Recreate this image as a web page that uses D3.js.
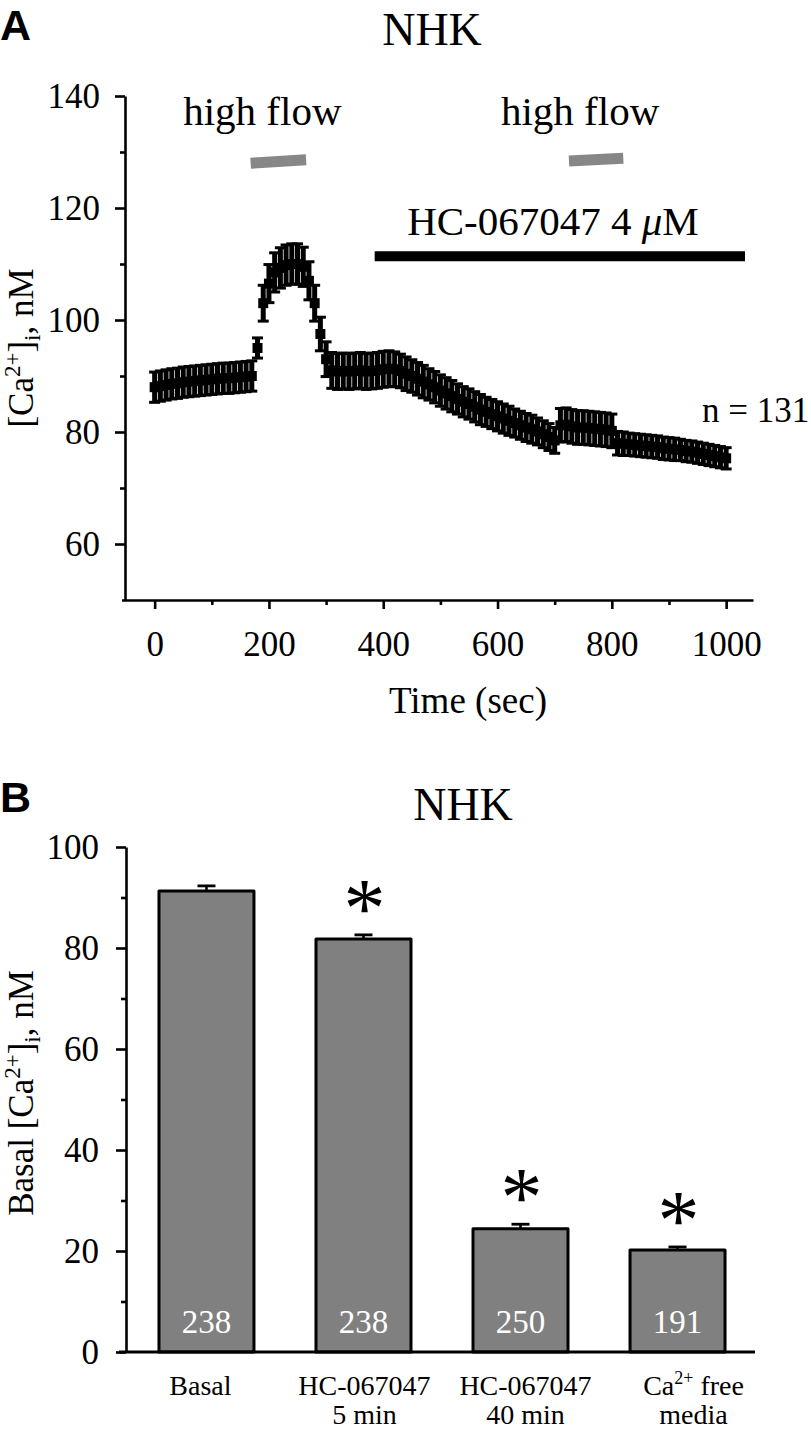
<!DOCTYPE html>
<html><head><meta charset="utf-8">
<script src="https://cdn.jsdelivr.net/npm/d3@7"></script>
<style>
body{margin:0;background:#fff}
svg text{font-family:"Liberation Serif","Times New Roman",serif;fill:#000}
</style>
</head><body>
<svg id="c" width="811" height="1430"></svg>
<script>
// ---------- Panel A data ----------
const timeSec = [
  0,10,20,30,40,50,60,70,80,90,
  100,110,120,130,140,150,160,170,180,190,
  200,210,220,230,240,250,260,270,280,290,
  300,310,320,330,340,350,360,370,380,390,
  400,410,420,430,440,450,460,470,480,490,
  500,510,520,530,540,550,560,570,580,590,
  600,610,620,630,640,650,660,670,680,690,
  700,710,720,730,740,750,760,770,780,790,
  800,810,820,830,840,850,860,870,880,890,
  900,910,920,930,940,950,960,970,980,990,
  1000];
const caMean = [
  88.0,88.2,88.4,88.6,88.7,88.9,89.0,89.1,89.2,89.3,
  89.4,89.5,89.6,89.6,89.7,89.8,89.9,90.0,95.0,103.0,
  106.5,108.5,109.3,109.8,110.0,110.0,109.5,107.0,103.0,97.5,
  93.0,91.0,90.8,90.9,90.8,90.9,91.0,90.8,90.9,91.0,
  91.2,91.3,91.2,90.9,90.4,90.0,89.5,89.0,88.5,88.0,
  87.4,86.9,86.4,85.9,85.4,85.0,84.5,84.0,83.6,83.2,
  82.8,82.4,82.0,81.6,81.2,80.8,80.5,80.1,79.6,79.1,
  78.5,81.2,81.3,81.0,80.8,80.8,80.7,80.6,80.5,80.4,
  80.2,78.0,77.9,77.8,77.7,77.6,77.5,77.4,77.3,77.1,
  77.0,76.9,76.8,76.6,76.5,76.3,76.1,75.9,75.7,75.5,
  75.3];
const caSem = [
  2.7,2.7,2.7,2.7,2.7,2.7,2.7,2.7,2.7,2.7,
  2.7,2.7,2.7,2.7,2.7,2.7,2.7,2.7,1.8,3.2,
  3.4,3.5,3.6,3.6,3.6,3.6,3.5,3.4,3.2,3.0,
  3.1,3.2,3.2,3.2,3.2,3.2,3.2,3.2,3.2,3.2,
  3.2,3.2,3.1,3.0,3.0,2.9,2.9,2.9,2.8,2.8,
  2.8,2.8,2.8,2.7,2.7,2.7,2.7,2.7,2.6,2.6,
  2.6,2.6,2.6,2.5,2.5,2.5,2.5,2.4,2.4,2.4,
  2.3,3.0,3.0,3.0,3.0,3.0,3.0,3.0,3.0,3.0,
  3.0,2.1,2.1,2.0,2.0,2.0,2.0,2.0,2.0,2.0,
  2.0,2.0,1.9,1.9,1.9,1.9,1.9,1.9,1.9,1.9,
  1.9];
const xTicksA = [0,200,400,600,800,1000];
const xMinorA = [100,300,500,700,900];
const yTicksA = [60,80,100,120,140];
const yMinorA = [70,90,110,130];
const highFlowStart = [168,725];
const highFlowEnd = [265,820];
const highFlowLevelStart = [128.0,128.4];
const highFlowLevelEnd = [128.6,128.9];
const drugStart = 385, drugEnd = 1033, drugLevel = 111.4;

// ---------- Panel B data ----------
const categories = ["Basal","HC-067047 5 min","HC-067047 40 min","Ca free media"];
const barMeans = [91.3,81.8,24.4,20.2];
const barSems = [1.0,0.8,0.9,0.6];
const cellCounts = [238,238,250,191];
const significant = [false,true,true,true];
const yTicksB = [0,20,40,60,80,100];
const yMinorB = [10,30,50,70,90];

const svg = d3.select("#c");

// ================= PANEL A =================
const xA = d3.scaleLinear().domain([-58,1047]).range([121.5,753]);
const yA = d3.scaleLinear().domain([50,140]).range([600,96]);

svg.append("text").attr("x",0).attr("y",40)
  .style("font-family","'Liberation Sans',Arial,sans-serif").style("font-weight","bold")
  .attr("font-size",43).text("A");
svg.append("text").attr("x",432).attr("y",45).attr("text-anchor","middle")
  .attr("font-size",46).text("NHK");

function styleAxis(g, w){
  g.selectAll("path.domain").attr("stroke","#000").attr("stroke-width",w);
  g.selectAll(".tick line").attr("stroke","#000").attr("stroke-width",w);
}

// y axis A
const gyA = svg.append("g").attr("transform","translate(125,0)")
  .call(d3.axisLeft(yA).tickValues(yTicksA).tickSize(10).tickSizeOuter(0).tickPadding(15));
styleAxis(gyA,2.6);
gyA.selectAll(".tick text").attr("font-size",35).style("font-family","'Liberation Serif',serif");
const gyAm = svg.append("g").attr("transform","translate(125,0)")
  .call(d3.axisLeft(yA).tickValues(yMinorA).tickSize(5).tickFormat(""));
gyAm.select("path.domain").remove();
styleAxis(gyAm,2.6);

// x axis A
const gxA = svg.append("g").attr("transform","translate(0,600)")
  .call(d3.axisBottom(xA).tickValues(xTicksA).tickFormat(d3.format("d")).tickSize(9).tickSizeOuter(0).tickPadding(22));
styleAxis(gxA,2.6);
gxA.selectAll(".tick text").attr("font-size",35).style("font-family","'Liberation Serif',serif");
const gxAm = svg.append("g").attr("transform","translate(0,600)")
  .call(d3.axisBottom(xA).tickValues(xMinorA).tickSize(5).tickFormat(""));
gxAm.select("path.domain").remove();
styleAxis(gxAm,2.6);

svg.append("text").attr("x",468).attr("y",713).attr("text-anchor","middle")
  .attr("font-size",37).text("Time (sec)");

// y label A
const ylA = svg.append("text").attr("transform","translate(33,348) rotate(-90)")
  .attr("text-anchor","middle").attr("font-size",35);
ylA.append("tspan").text("[Ca");
ylA.append("tspan").attr("dy",-13).attr("font-size",23).text("2+");
ylA.append("tspan").attr("dy",13).text("]");
ylA.append("tspan").attr("dy",7).attr("font-size",23).text("i");
ylA.append("tspan").attr("dy",-7).text(", nM");

// trace with error bars
const pts = timeSec.map((t,i)=>({t, m:caMean[i], e:caSem[i]}));
const gT = svg.append("g");
gT.selectAll("line.eb").data(pts).join("line").attr("class","eb")
  .attr("x1",d=>xA(d.t)).attr("x2",d=>xA(d.t))
  .attr("y1",d=>yA(d.m-d.e)).attr("y2",d=>yA(d.m+d.e))
  .attr("stroke","#000").attr("stroke-width",5);
gT.selectAll("line.capT").data(pts).join("line").attr("class","capT")
  .attr("x1",d=>xA(d.t)-5.5).attr("x2",d=>xA(d.t)+5.5)
  .attr("y1",d=>yA(d.m+d.e)).attr("y2",d=>yA(d.m+d.e))
  .attr("stroke","#000").attr("stroke-width",3);
gT.selectAll("line.capB").data(pts).join("line").attr("class","capB")
  .attr("x1",d=>xA(d.t)-5.5).attr("x2",d=>xA(d.t)+5.5)
  .attr("y1",d=>yA(d.m-d.e)).attr("y2",d=>yA(d.m-d.e))
  .attr("stroke","#000").attr("stroke-width",3);
gT.selectAll("rect.mk").data(pts).join("rect").attr("class","mk")
  .attr("x",d=>xA(d.t)-5).attr("y",d=>yA(d.m)-5)
  .attr("width",10).attr("height",10).attr("fill","#000");

// high flow bars + labels
highFlowStart.forEach((s,i)=>{
  svg.append("line")
    .attr("x1",xA(s)).attr("x2",xA(highFlowEnd[i]))
    .attr("y1",yA(highFlowLevelStart[i])).attr("y2",yA(highFlowLevelEnd[i]))
    .attr("stroke","#878787").attr("stroke-width",11);
  svg.append("text").attr("x",(xA(s)+xA(highFlowEnd[i]))/2-16).attr("y",125)
    .attr("text-anchor","middle").attr("font-size",41).text("high flow");
});

// drug bar + label
svg.append("line").attr("x1",xA(drugStart)).attr("x2",xA(drugEnd))
  .attr("y1",yA(drugLevel)).attr("y2",yA(drugLevel))
  .attr("stroke","#000").attr("stroke-width",10);
const hc = svg.append("text").attr("x",553).attr("y",235).attr("text-anchor","middle").attr("font-size",41);
hc.append("tspan").text("HC-067047 4 ");
hc.append("tspan").attr("font-style","italic").text("\u03bc");
hc.append("tspan").text("M");

svg.append("text").attr("x",702).attr("y",422).attr("font-size",35).text("n = 131");

// ================= PANEL B =================
const xB = d3.scaleBand().domain(categories).range([126,758]).paddingInner(0.395).paddingOuter(0.21);
const yB = d3.scaleLinear().domain([0,100]).range([1352,847]);

svg.append("text").attr("x",0).attr("y",812)
  .style("font-family","'Liberation Sans',Arial,sans-serif").style("font-weight","bold")
  .attr("font-size",43).text("B");
svg.append("text").attr("x",463).attr("y",820).attr("text-anchor","middle")
  .attr("font-size",46).text("NHK");

// bars
svg.selectAll("rect.bar").data(categories).join("rect").attr("class","bar")
  .attr("x",d=>xB(d)).attr("width",xB.bandwidth())
  .attr("y",(d,i)=>yB(barMeans[i])).attr("height",(d,i)=>yB(0)-yB(barMeans[i]))
  .attr("fill","#808080").attr("stroke","#000").attr("stroke-width",3).attr("stroke-linejoin","round");
// error bars
svg.selectAll("line.beb").data(categories).join("line").attr("class","beb")
  .attr("x1",d=>xB(d)+xB.bandwidth()/2).attr("x2",d=>xB(d)+xB.bandwidth()/2)
  .attr("y1",(d,i)=>yB(barMeans[i])).attr("y2",(d,i)=>yB(barMeans[i]+barSems[i]))
  .attr("stroke","#000").attr("stroke-width",2.6);
svg.selectAll("line.bcap").data(categories).join("line").attr("class","bcap")
  .attr("x1",d=>xB(d)+xB.bandwidth()/2-9).attr("x2",d=>xB(d)+xB.bandwidth()/2+9)
  .attr("y1",(d,i)=>yB(barMeans[i]+barSems[i])).attr("y2",(d,i)=>yB(barMeans[i]+barSems[i]))
  .attr("stroke","#000").attr("stroke-width",2.8);
// counts
svg.selectAll("text.cnt").data(categories).join("text").attr("class","cnt")
  .attr("x",d=>xB(d)+xB.bandwidth()/2).attr("y",1333).attr("text-anchor","middle")
  .attr("font-size",33).style("fill","#fff").text((d,i)=>cellCounts[i]);
// asterisks
svg.selectAll("text.sig").data(categories.filter((d,i)=>significant[i])).join("text").attr("class","sig")
  .attr("x",d=>xB(d)+xB.bandwidth()/2+1).attr("y",d=>{const i=categories.indexOf(d);return yB(barMeans[i]+barSems[i])+2;})
  .attr("text-anchor","middle").attr("font-size",84).text("*");

// axes B
const gyB = svg.append("g").attr("transform","translate(126,0)")
  .call(d3.axisLeft(yB).tickValues(yTicksB).tickSize(10).tickSizeOuter(0).tickPadding(17));
styleAxis(gyB,2.6);
gyB.selectAll(".tick text").attr("font-size",35).style("font-family","'Liberation Serif',serif");
const gyBm = svg.append("g").attr("transform","translate(126,0)")
  .call(d3.axisLeft(yB).tickValues(yMinorB).tickSize(5).tickFormat(""));
gyBm.select("path.domain").remove();
styleAxis(gyBm,2.6);
svg.append("line").attr("x1",119).attr("x2",755).attr("y1",yB(0)).attr("y2",yB(0))
  .attr("stroke","#000").attr("stroke-width",2.8);

// category labels
const catLine1 = ["Basal","HC-067047","HC-067047","Ca"];
const catLine2 = ["","5 min","40 min","media"];
const catDx = [-6,1,5,16];
categories.forEach((c,i)=>{
  const cx = xB(c)+xB.bandwidth()/2+catDx[i];
  const t1 = svg.append("text").attr("x",cx).attr("y",1395).attr("text-anchor","middle").attr("font-size",28);
  if(i===3){
    t1.append("tspan").text("Ca");
    t1.append("tspan").attr("dy",-11).attr("font-size",18).text("2+");
    t1.append("tspan").attr("dy",11).text(" free");
  } else t1.text(catLine1[i]);
  if(catLine2[i]) svg.append("text").attr("x",cx).attr("y",1424).attr("text-anchor","middle").attr("font-size",28).text(catLine2[i]);
});

// y label B
const ylB = svg.append("text").attr("transform","translate(33,1093) rotate(-90)")
  .attr("text-anchor","middle").attr("font-size",35);
ylB.append("tspan").text("Basal [Ca");
ylB.append("tspan").attr("dy",-13).attr("font-size",23).text("2+");
ylB.append("tspan").attr("dy",13).text("]");
ylB.append("tspan").attr("dy",7).attr("font-size",23).text("i");
ylB.append("tspan").attr("dy",-7).text(", nM");
</script>
</body></html>
